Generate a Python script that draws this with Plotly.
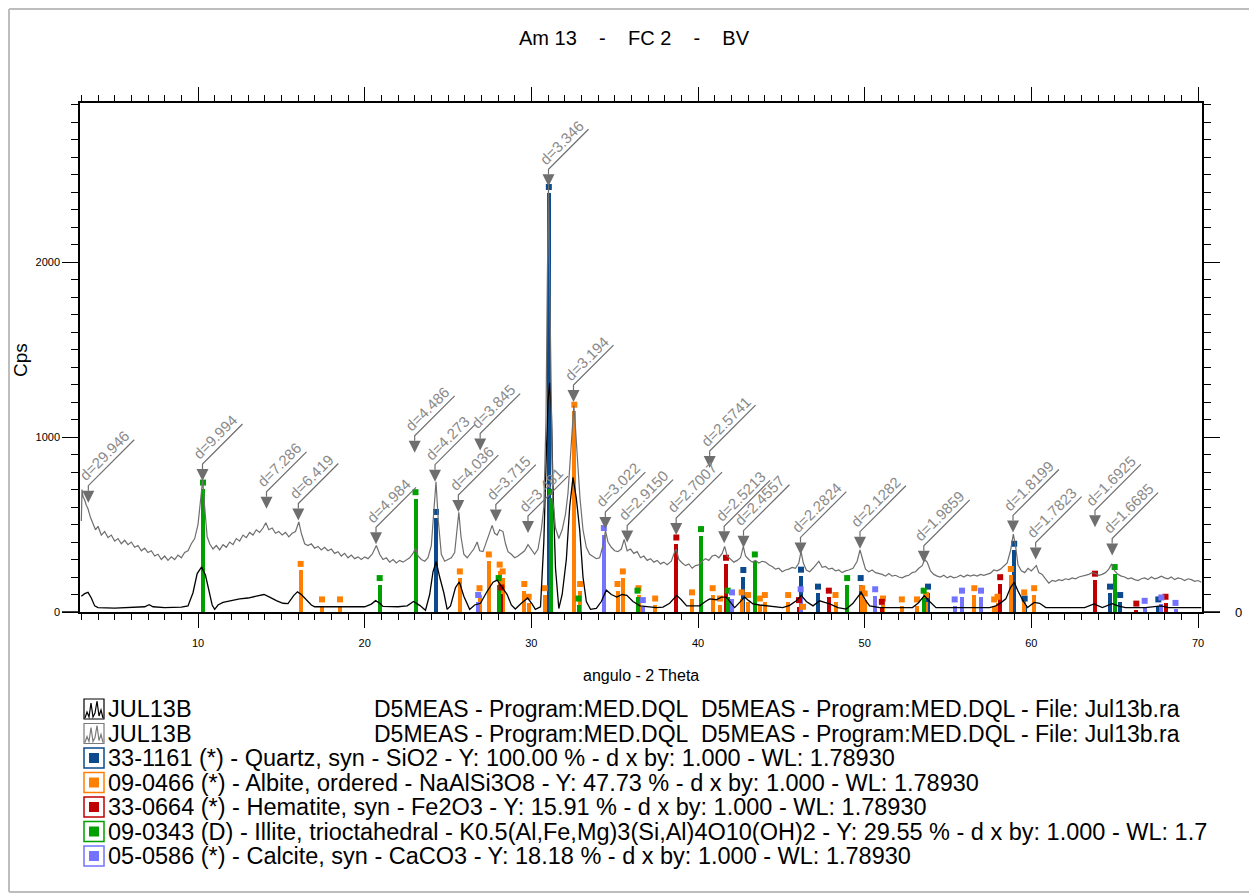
import plotly.graph_objects as go

# ---------------- figure geometry (pixels, in screenshot coordinates) ----------------
SCREEN_W, SCREEN_H = 1257, 895
BODY = 8  # default page margin of the html body
W, H = SCREEN_W - BODY, SCREEN_H - BODY
PL, PR, PT, PB = 80, 1202, 103, 612
X_RANGE = [2.92, 70.24]
Y_RANGE = [0, 2910]

TITLE = "Am 13\u00a0\u00a0\u00a0\u00a0-\u00a0\u00a0\u00a0\u00a0FC 2\u00a0\u00a0\u00a0\u00a0-\u00a0\u00a0\u00a0\u00a0BV"
X_TITLE = "angulo - 2 Theta"
Y_TITLE = "Cps"

# ---------------- measured scans ----------------
gray_x = [3.00, 3.04, 3.10, 3.20, 3.30, 3.40, 3.55, 3.70, 3.85, 4.00, 4.20, 4.40, 4.60, 4.80, 5.00, 5.20, 5.40, 5.60,
          5.80, 6.00, 6.20, 6.40, 6.60, 6.80, 7.00, 7.20, 7.40, 7.60, 7.80, 8.00, 8.20, 8.40, 8.60, 8.80, 9.00, 9.20,
          9.40, 9.60, 9.80, 10.00, 10.15, 10.28, 10.40, 10.55, 10.70, 10.90, 11.10, 11.30, 11.50, 11.70, 11.90, 12.10,
          12.30, 12.50, 12.70, 12.90, 13.10, 13.30, 13.50, 13.70, 13.90, 14.07, 14.25, 14.45, 14.65, 14.85, 15.05,
          15.25, 15.45, 15.65, 15.85, 16.05, 16.20, 16.40, 16.60, 16.80, 17.00, 17.20, 17.40, 17.60, 17.80, 18.00,
          18.20, 18.40, 18.60, 18.80, 19.00, 19.20, 19.40, 19.60, 19.80, 20.00, 20.20, 20.45, 20.70, 20.90, 21.10,
          21.30, 21.50, 21.70, 21.90, 22.10, 22.30, 22.50, 22.70, 22.90, 23.05, 23.20, 23.40, 23.60, 23.80, 24.00,
          24.15, 24.28, 24.42, 24.60, 24.80, 25.00, 25.20, 25.40, 25.55, 25.65, 25.78, 25.95, 26.15, 26.35, 26.55,
          26.75, 26.90, 27.10, 27.30, 27.50, 27.65, 27.80, 27.95, 28.10, 28.30, 28.45, 28.60, 28.80, 29.00, 29.20,
          29.40, 29.60, 29.80, 30.00, 30.20, 30.40, 30.60, 30.75, 30.88, 30.96, 31.03, 31.10, 31.18, 31.28, 31.45,
          31.65, 31.85, 32.05, 32.20, 32.35, 32.45, 32.55, 32.65, 32.78, 32.92, 33.10, 33.30, 33.50, 33.70, 33.90,
          34.10, 34.30, 34.45, 34.60, 34.80, 35.00, 35.20, 35.40, 35.57, 35.75, 35.95, 36.15, 36.35, 36.55, 36.75,
          36.95, 37.15, 37.35, 37.55, 37.75, 37.95, 38.15, 38.40, 38.62, 38.70, 38.85, 39.05, 39.25, 39.45, 39.65,
          39.85, 40.05, 40.25, 40.45, 40.65, 40.85, 41.05, 41.25, 41.45, 41.60, 41.75, 41.95, 42.15, 42.35, 42.55,
          42.72, 42.85, 43.05, 43.25, 43.45, 43.65, 43.85, 44.05, 44.25, 44.45, 44.65, 44.85, 45.05, 45.25, 45.45,
          45.65, 45.85, 46.05, 46.18, 46.32, 46.50, 46.70, 46.90, 47.10, 47.25, 47.45, 47.65, 47.85, 48.05, 48.25,
          48.45, 48.65, 48.85, 49.05, 49.30, 49.55, 49.72, 49.88, 50.05, 50.25, 50.45, 50.65, 50.85, 51.05, 51.25,
          51.45, 51.65, 51.85, 52.05, 52.25, 52.45, 52.65, 52.85, 53.05, 53.25, 53.45, 53.60, 53.75, 53.95, 54.15,
          54.35, 54.55, 54.75, 54.95, 55.15, 55.35, 55.55, 55.75, 55.95, 56.15, 56.35, 56.55, 56.75, 56.95, 57.15,
          57.35, 57.55, 57.75, 57.95, 58.15, 58.35, 58.55, 58.75, 58.92, 59.05, 59.20, 59.40, 59.60, 59.80, 60.00,
          60.20, 60.30, 60.45, 60.65, 60.85, 61.05, 61.25, 61.45, 61.65, 61.85, 62.05, 62.25, 62.45, 62.65, 62.85,
          63.05, 63.25, 63.45, 63.65, 63.85, 64.05, 64.25, 64.45, 64.65, 64.82, 65.00, 65.20, 65.40, 65.60, 65.80,
          66.00, 66.20, 66.40, 66.60, 66.80, 67.00, 67.20, 67.40, 67.60, 67.80, 68.00, 68.20, 68.40, 68.60, 68.80,
          69.00, 69.20, 69.40, 69.60, 69.80, 70.00, 70.20]
gray_y = [520, 700, 660, 640, 610, 590, 540, 500, 470, 490, 440, 460, 425, 440, 405, 420, 390, 410,
          385, 400, 370, 380, 350, 365, 340, 350, 320, 330, 300, 320, 295, 315, 300, 325, 310, 340,
          350, 390, 420, 500, 640, 755, 600, 430, 390, 360, 380, 355, 385, 370, 400, 385,
          420, 405, 440, 425, 455, 440, 470, 455, 480, 510, 470, 480, 450, 460, 440,
          455, 430, 450, 460, 515, 450, 390, 380, 390, 365, 375, 355, 370, 350, 360,
          335, 345, 320, 335, 310, 325, 305, 315, 300, 315, 305, 330, 380, 330, 300,
          310, 285, 300, 280, 295, 285, 300, 310, 335, 365, 320, 300, 290, 310, 380,
          560, 745, 520, 330, 290, 300, 310, 340, 460, 570, 430, 330, 310, 335, 360,
          400, 350, 345, 400, 450, 495, 450, 440, 470, 460, 390, 345, 330, 310, 320,
          335, 350, 385, 360, 330, 360, 470, 600, 1100, 1900, 2440, 1900, 1200, 650, 480,
          420, 470, 560, 680, 880, 1050, 1180, 1050, 820, 650, 470, 370, 330, 315, 305,
          310, 380, 465, 400, 370, 350, 345, 360, 415, 350, 360, 335, 345, 310, 320,
          295, 305, 285, 295, 275, 285, 270, 290, 350, 358, 300, 280, 265, 275, 250,
          265, 270, 290, 305, 295, 320, 325, 310, 335, 375, 320, 300, 285, 295, 310,
          375, 320, 300, 285, 295, 280, 290, 285, 270, 260, 245, 250, 230, 240, 245,
          255, 250, 280, 345, 280, 240, 230, 250, 275, 290, 255, 260, 245, 250, 235,
          240, 225, 235, 240, 250, 290, 355, 300, 245, 230, 240, 225, 220, 215, 205,
          220, 205, 210, 200, 195, 205, 210, 225, 230, 250, 265, 300, 285, 235, 215,
          205, 200, 210, 195, 205, 195, 200, 210, 200, 212, 205, 212, 205, 215, 210,
          218, 222, 240, 235, 245, 260, 280, 350, 445, 380, 270, 235, 225, 250, 235,
          255, 265, 225, 215, 190, 165, 180, 175, 185, 180, 190, 185, 195, 190, 200,
          205, 210, 215, 225, 220, 210, 215, 225, 245, 275, 235, 215, 205, 200, 190,
          195, 185, 180, 190, 195, 185, 200, 190, 195, 205, 195, 190, 200, 185, 195,
          190, 180, 190, 185, 175, 180, 170]

black_x = [3.00, 3.20, 3.40, 3.60, 3.80, 4.00, 5.00, 6.00, 6.80, 7.07, 7.30, 8.00, 9.00, 9.40, 9.70, 9.95, 10.22,
           10.45, 10.65, 10.85, 11.00, 11.20, 11.50, 12.00, 12.50, 13.00, 13.50, 13.96, 14.30, 14.70, 15.10, 15.40,
           15.75, 15.97, 16.20, 16.50, 16.80, 17.00, 18.00, 19.00, 20.00, 20.40, 20.66, 20.90, 21.10, 22.00, 22.55,
           22.93, 23.30, 23.65, 23.90, 24.10, 24.29, 24.50, 24.75, 24.95, 25.15, 25.45, 25.68, 25.95, 26.30, 26.60,
           26.95, 27.30, 27.70, 27.95, 28.20, 28.55, 28.80, 29.04, 29.40, 29.78, 30.05, 30.24, 30.55, 30.75, 30.90,
           31.00, 31.10, 31.20, 31.30, 31.45, 31.65, 31.85, 32.10, 32.30, 32.50, 32.70, 32.90, 33.10, 33.30, 33.55,
           33.90, 34.20, 34.50, 34.80, 35.13, 35.45, 35.73, 36.10, 36.52, 37.00, 37.50, 37.90, 38.30, 38.72, 39.00,
           39.32, 40.10, 40.45, 40.70, 41.10, 41.40, 41.70, 42.00, 42.20, 42.50, 42.80, 43.05, 43.30, 43.70, 44.10,
           44.60, 45.08, 45.50, 45.90, 46.20, 46.50, 46.90, 47.30, 47.60, 47.90, 48.40, 48.90, 49.30, 49.79, 50.10,
           50.30, 50.90, 52.87, 53.20, 53.58, 53.90, 54.28, 57.50, 57.87, 58.20, 58.47, 58.75, 58.97, 59.20, 59.47,
           59.77, 60.00, 60.17, 60.50, 60.87, 63.20, 63.50, 63.76, 64.26, 64.60, 64.85, 65.20, 65.64, 66.85, 67.50,
           67.80, 68.20, 69.93, 70.20]
black_y = [90, 105, 112, 80, 35, 25, 22, 25, 30, 42, 30, 25, 28, 35, 110, 220, 258,
           210, 130, 40, 15, 40, 55, 65, 75, 80, 90, 100, 85, 65, 50, 48,
           95, 115, 100, 70, 40, 30, 30, 28, 30, 45, 65, 50, 32, 30, 35,
           60, 38, 10, 100, 230, 288, 200, 110, 15, 35, 140, 172, 90, 15, 40,
           50, 110, 170, 182, 150, 100, 40, 17, 50, 80, 45, 15, 30, 400, 900,
           1200, 1310, 1150, 700, 250, 20, 100, 300, 600, 770, 650, 470, 200, 60, 15,
           20, 60, 125, 100, 85, 100, 95, 60, 35, 30, 25, 28, 50, 95, 70,
           35, 35, 60, 75, 70, 85, 85, 50, 25, 55, 85, 65, 46, 40, 35,
           30, 25, 38, 64, 95, 60, 35, 64, 55, 46, 25, 17, 50, 112, 60,
           35, 25, 25, 50, 93, 60, 25, 25, 35, 55, 75, 140, 170, 120, 70,
           25, 40, 55, 50, 25, 25, 35, 46, 25, 40, 48, 35, 25, 25, 30,
           35, 25, 25, 25]

# ---------------- reference patterns (2-theta, intensity) ----------------
quartz_x = [24.28, 31.05, 42.72, 46.18, 47.20, 49.76, 53.80, 58.97, 59.60, 64.72, 65.33, 67.62]
quartz_h = [572, 2430, 240, 242, 145, 194, 145, 390, 77, 145, 97, 72]

albite_x = [16.16, 17.44, 18.52, 25.71, 26.89, 27.45, 28.10, 28.28, 29.58, 29.84, 30.80, 32.58, 32.93, 35.17,
            35.49, 36.43, 37.43, 39.64, 40.88, 41.32, 42.62, 43.00, 43.71, 44.01, 45.41, 46.30, 48.25, 49.85,
            50.00, 51.10, 52.23, 53.14, 53.68, 56.58, 57.77, 57.97, 58.77, 59.57, 60.17]
albite_h = [275, 72, 72, 232, 136, 329, 271, 232, 160, 87, 136, 1185, 160, 160,
            232, 136, 77, 112, 136, 77, 112, 97, 77, 97, 97, 30, 97, 136,
            106, 77, 72, 72, 97, 136, 72, 87, 246, 112, 136]

hematite_x = [28.20, 38.70, 41.68, 46.06, 47.85, 51.03, 58.13, 63.82, 66.30, 68.05]
hematite_h = [140, 426, 310, 68, 122, 58, 199, 219, 48, 87]

illite_x = [10.30, 20.90, 23.05, 28.04, 31.18, 32.83, 36.37, 40.18, 41.78, 43.41, 48.95, 53.54, 65.00]
illite_h = [740, 194, 685, 194, 687, 77, 122, 474, 122, 329, 194, 122, 257]

calcite_x = [26.81, 34.35, 36.69, 42.04, 46.16, 50.63, 55.40, 55.84, 56.98, 66.80, 67.80, 68.65]
calcite_h = [97, 480, 68, 112, 130, 130, 72, 122, 122, 64, 83, 52]

# ---------------- d-spacing peak labels ----------------
d_labels = ["d=29.946", "d=9.994", "d=7.286", "d=6.419", "d=4.984", "d=4.486", "d=4.273", "d=4.036",
            "d=3.845", "d=3.715", "d=3.481", "d=3.346", "d=3.194", "d=3.022", "d=2.9150", "d=2.7007",
            "d=2.5741", "d=2.5213", "d=2.4557", "d=2.2824", "d=2.1282", "d=1.9859", "d=1.8199", "d=1.7823",
            "d=1.6925", "d=1.6685"]
d_pos = [3.42, 10.27, 14.11, 16.02, 20.68, 23.00, 24.22, 25.62,
         26.93, 27.87, 29.80, 31.03, 32.53, 34.44, 35.75, 38.69,
         40.70, 41.57, 42.73, 46.15, 49.72, 53.55, 58.90, 60.26,
         63.82, 64.85]
d_tip = [625, 749, 590, 523, 387, 910, 745, 571,
         923, 517, 451, 2434, 1200, 474, 397, 440,
         823, 393, 368, 329, 362, 281, 455, 300,
         484, 323]

# ---------------- legend texts ----------------
scan_name = "JUL13B"
scan_col1 = "D5MEAS - Program:MED.DQL"
scan_col2 = "D5MEAS - Program:MED.DQL - File: Jul13b.ra"
phase_legend = [
    "33-1161 (*) - Quartz, syn - SiO2 - Y: 100.00 % - d x by: 1.000 - WL: 1.78930",
    "09-0466 (*) - Albite, ordered - NaAlSi3O8 - Y: 47.73 % - d x by: 1.000 - WL: 1.78930",
    "33-0664 (*) - Hematite, syn - Fe2O3 - Y: 15.91 % - d x by: 1.000 - WL: 1.78930",
    "09-0343 (D) - Illite, trioctahedral - K0.5(Al,Fe,Mg)3(Si,Al)4O10(OH)2 - Y: 29.55 % - d x by: 1.000 - WL: 1.7",
    "05-0586 (*) - Calcite, syn - CaCO3 - Y: 18.18 % - d x by: 1.000 - WL: 1.78930",
]

# ---------------- styles ----------------
C_QUARTZ = "#0b4a8c"
C_ALBITE = "#ff8000"
C_HEMATITE = "#c00000"
C_ILLITE = "#00a000"
C_CALCITE = "#7373ff"
C_GRAY = "#6e6e6e"
C_LABEL = "#8a8a8a"
FONT = "Liberation Sans, Arial, sans-serif"
NARROW = "Liberation Sans Narrow, Arial Narrow, Liberation Sans, sans-serif"

phases = [
    (quartz_x, quartz_h, C_QUARTZ),
    (albite_x, albite_h, C_ALBITE),
    (hematite_x, hematite_h, C_HEMATITE),
    (illite_x, illite_h, C_ILLITE),
    (calcite_x, calcite_h, C_CALCITE),
]

cnt_per_px = (Y_RANGE[1] - Y_RANGE[0]) / (PB - PT)
GAP = 6.5 * cnt_per_px  # white gap between stick and cap


def pxx(px):
    return (px - PL) / (PR - PL)


def pxy(py):
    return (PB - py) / (PB - PT)


fig = go.Figure()

for xs, hs, col in phases:
    fig.add_trace(go.Bar(x=xs, y=[max(h - GAP, 0) for h in hs], width=0.24,
                         marker=dict(color=col, line=dict(width=0)), showlegend=False, hoverinfo="skip"))
    fig.add_trace(go.Scatter(x=xs, y=hs, mode="markers",
                             marker=dict(symbol="square", size=6, color=col, line=dict(width=0)),
                             showlegend=False, hoverinfo="skip"))

fig.add_trace(go.Scatter(x=black_x, y=black_y, mode="lines", line=dict(color="black", width=1.3),
                         showlegend=False, hoverinfo="skip"))
fig.add_trace(go.Scatter(x=gray_x, y=gray_y, mode="lines", line=dict(color=C_GRAY, width=1.2),
                         showlegend=False, hoverinfo="skip"))

shapes = []
annotations = []

# d labels: triangle, stub, diagonal underline and rotated text
CW = {"d": 0.556, "=": 0.584, ".": 0.278}
LBL_SIZE = 15
S = 0.7071
for lab, xp, tip in zip(d_labels, d_pos, d_tip):
    w = sum(CW.get(c, 0.556) for c in lab) * LBL_SIZE
    a = (w + 2) * S
    shapes.append(dict(type="path", xref="x", yref="y", xsizemode="pixel", ysizemode="pixel",
                       xanchor=xp, yanchor=tip, path="M-6,12 L6,12 L0,0 Z",
                       fillcolor=C_GRAY, line=dict(width=0), layer="above"))
    shapes.append(dict(type="path", xref="x", yref="y", xsizemode="pixel", ysizemode="pixel",
                       xanchor=xp, yanchor=tip, path=f"M0,12 L0,17 L{a:.1f},{17 + a:.1f}",
                       line=dict(color=C_GRAY, width=1.2), layer="above"))
    c = w / 2 + 1
    p = 10
    annotations.append(dict(x=xp, y=tip, xref="x", yref="y", text=lab, showarrow=False, textangle=-45,
                            xanchor="center", yanchor="middle",
                            xshift=(c - p) * S, yshift=17 + (c + p) * S,
                            font=dict(family=FONT, size=LBL_SIZE, color=C_LABEL)))

# title and axis titles
annotations.append(dict(x=pxx(634), y=pxy(38), xref="paper", yref="paper", text=TITLE, showarrow=False,
                        xanchor="center", yanchor="middle", font=dict(family=FONT, size=20, color="black")))
annotations.append(dict(x=pxx(641), y=pxy(675), xref="paper", yref="paper", text=X_TITLE, showarrow=False,
                        xanchor="center", yanchor="middle", font=dict(family=FONT, size=16, color="black")))
annotations.append(dict(x=pxx(20), y=pxy(360), xref="paper", yref="paper", text=Y_TITLE, showarrow=False,
                        textangle=-90, xanchor="center", yanchor="middle",
                        font=dict(family=FONT, size=19, color="black")))
annotations.append(dict(x=pxx(1238), y=pxy(612), xref="paper", yref="paper", text="0", showarrow=False,
                        xanchor="center", yanchor="middle", font=dict(family=FONT, size=13, color="black")))

# legend
row_y = [709, 733.5, 758, 782.5, 807, 831.5, 856]
LEG = 23.5
LEG_SCAN = 23
icon_cx = 94
for i, col in enumerate(["black", "#7a7a7a"]):
    ry = row_y[i]
    shapes.append(dict(type="path", xref="paper", yref="paper", xsizemode="pixel", ysizemode="pixel",
                       xanchor=pxx(icon_cx), yanchor=pxy(ry),
                       path="M-10,-10 L10,-10 L10,10 L-10,10 Z", line=dict(color=col, width=1.2)))
    shapes.append(dict(type="path", xref="paper", yref="paper", xsizemode="pixel", ysizemode="pixel",
                       xanchor=pxx(icon_cx), yanchor=pxy(ry),
                       path="M-9,-9 L-7,-3 L-5,-8 L-3,6 L-1,-8 L1,-4 L3,8 L5,-7 L7,-1 L9,-9",
                       line=dict(color=col, width=1.2)))
    annotations.append(dict(x=pxx(106), y=pxy(ry), xref="paper", yref="paper", text=scan_name,
                            showarrow=False, xanchor="left", yanchor="middle",
                            font=dict(family=FONT, size=LEG, color="black")))
    annotations.append(dict(x=pxx(372), y=pxy(ry), xref="paper", yref="paper", text=scan_col1,
                            showarrow=False, xanchor="left", yanchor="middle",
                            font=dict(family=FONT, size=LEG_SCAN, color="black")))
    annotations.append(dict(x=pxx(699), y=pxy(ry), xref="paper", yref="paper", text=scan_col2,
                            showarrow=False, xanchor="left", yanchor="middle",
                            font=dict(family=FONT, size=LEG_SCAN, color="black")))

for j, ((xs, hs, col), txt) in enumerate(zip(phases, phase_legend)):
    ry = row_y[j + 2]
    shapes.append(dict(type="path", xref="paper", yref="paper", xsizemode="pixel", ysizemode="pixel",
                       xanchor=pxx(icon_cx), yanchor=pxy(ry),
                       path="M-10,-10 L10,-10 L10,10 L-10,10 Z", fillcolor="white",
                       line=dict(color=col, width=1.5)))
    shapes.append(dict(type="path", xref="paper", yref="paper", xsizemode="pixel", ysizemode="pixel",
                       xanchor=pxx(icon_cx), yanchor=pxy(ry),
                       path="M-5,-5 L5,-5 L5,5 L-5,5 Z", fillcolor=col, line=dict(width=0)))
    annotations.append(dict(x=pxx(106), y=pxy(ry), xref="paper", yref="paper", text=txt,
                            showarrow=False, xanchor="left", yanchor="middle",
                            font=dict(family=FONT, size=LEG, color="black")))

# outer frame and axis extensions
for (x0, y0, x1, y1) in [(9, 9, 1250, 9), (9, 892, 1250, 892), (9, 9, 9, 892), (1250, 9, 1250, 892)]:
    shapes.append(dict(type="line", xref="paper", yref="paper", x0=pxx(x0), x1=pxx(x1), y0=pxy(y0), y1=pxy(y1),
                       line=dict(color="#bdbdbd", width=2)))
shapes.append(dict(type="line", xref="paper", yref="paper", x0=pxx(62), x1=pxx(PL), y0=0, y1=0,
                   line=dict(color="black", width=1.5)))
shapes.append(dict(type="line", xref="paper", yref="paper", x0=pxx(PR), x1=pxx(1220), y0=0, y1=0,
                   line=dict(color="black", width=1.5)))

fig.update_layout(
    width=W, height=H,
    margin=dict(l=PL - BODY, r=SCREEN_W - PR, t=PT - BODY, b=SCREEN_H - PB, autoexpand=False),
    paper_bgcolor="white", plot_bgcolor="white",
    barmode="overlay", bargap=0, showlegend=False,
    shapes=shapes, annotations=annotations,
    xaxis=dict(range=X_RANGE, showline=True, linecolor="black", linewidth=1.5, mirror="ticks",
               ticks="outside", ticklen=14, tickwidth=1, tickcolor="black", tick0=0, dtick=10,
               showgrid=False, zeroline=False, ticklabelstandoff=6,
               tickfont=dict(family=NARROW, size=11, color="black"),
               minor=dict(dtick=1, ticks="outside", ticklen=6, tickwidth=1, tickcolor="black", showgrid=False)),
    yaxis=dict(range=Y_RANGE, showline=True, linecolor="black", linewidth=1.5, mirror="ticks",
               ticks="outside", ticklen=16, tickwidth=1, tickcolor="black", tick0=0, dtick=1000,
               showgrid=False, zeroline=False,
               tickfont=dict(family=NARROW, size=11, color="black"),
               minor=dict(dtick=100, ticks="outside", ticklen=7, tickwidth=1, tickcolor="black", showgrid=False)),
)

fig.write_html("out.html")
